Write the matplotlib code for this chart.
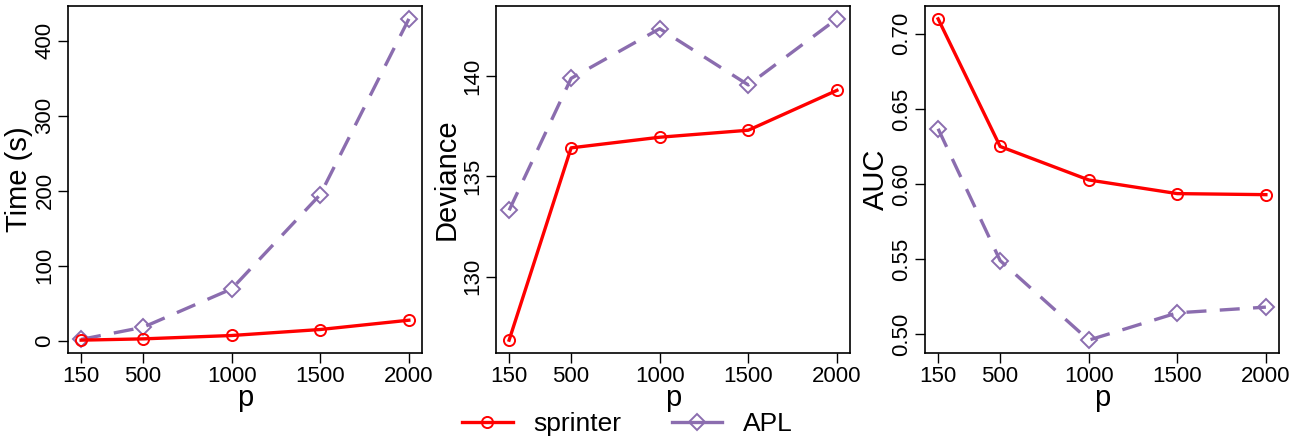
import numpy as np
import matplotlib
matplotlib.use("Agg")
from matplotlib import pyplot as plt
from matplotlib.lines import Line2D

plt.rcParams['font.family'] = ['Liberation Sans', 'DejaVu Sans']

p = [150, 500, 1000, 1500, 2000]

time_sprinter = [0.5, 2.2, 6.7, 14.7, 27.1]
time_apl = [1.5, 17.7, 68.9, 194.7, 429.0]

dev_sprinter = [126.83, 136.43, 136.96, 137.31, 139.30]
dev_apl = [133.31, 139.90, 142.38, 139.57, 142.87]

auc_sprinter = [0.710, 0.625, 0.6027, 0.5936, 0.5929]
auc_apl = [0.6368, 0.549, 0.496, 0.5142, 0.518]

panels = [
    ("Time (s)", time_sprinter, time_apl, [0, 100, 200, 300, 400], "{:.0f}"),
    ("Deviance", dev_sprinter, dev_apl, [130, 135, 140], "{:.0f}"),
    ("AUC", auc_sprinter, auc_apl, [0.50, 0.55, 0.60, 0.65, 0.70], "{:.2f}"),
]

red = "#FF0000"
purple = "#8B6DAF"

fig = plt.figure(figsize=(13.02, 4.38), dpi=100)
lefts = [68 / 1302, 496 / 1302, 925 / 1302]
w = 354 / 1302
bottom = 1 - 353 / 438
h = 347 / 438


def r_lim(vals):
    lo, hi = min(vals), max(vals)
    pad = (hi - lo) * 0.04
    return lo - pad, hi + pad


for left, (ylab, s, a, yt, fmt) in zip(lefts, panels):
    ax = fig.add_axes([left, bottom, w, h])
    ax.plot(p, a, color=purple, lw=2.4, ls=(0, (6, 4)), marker="D",
            ms=8, mfc="none", mec=purple, mew=1.4)
    ax.plot(p, s, color=red, lw=2.4, marker="o", ms=8, mfc="none",
            mec=red, mew=1.4)
    ax.set_xlim(r_lim(p))
    ax.set_ylim(r_lim(s + a))
    ax.set_xticks(p)
    ax.set_xticklabels([str(v) for v in p], fontsize=16)
    ax.set_yticks(yt)
    ax.set_yticklabels([fmt.format(v) for v in yt], fontsize=16,
                       rotation=90, va="center")
    ax.tick_params(direction="out", length=7, width=1, pad=2)
    for sp in ax.spines.values():
        sp.set_linewidth(1.2)
    ax.set_xlabel("p", fontsize=21, labelpad=-2)
    ax.set_ylabel(ylab, fontsize=21, labelpad=1)

handles = [
    Line2D([], [], color=red, lw=2.4, marker="o", ms=8, mfc="none",
           mec=red, mew=1.4),
    Line2D([], [], color=purple, lw=2.4, marker="D", ms=8, mfc="none",
           mec=purple, mew=1.4),
]
fig.legend(handles, ["sprinter", "APL"], loc="center",
           bbox_to_anchor=(0.482, 1 - 424 / 438), ncol=2, frameon=False,
           fontsize=19, handlelength=1.9, handletextpad=0.8,
           columnspacing=1.9)

fig.savefig("out.png", dpi=100)
